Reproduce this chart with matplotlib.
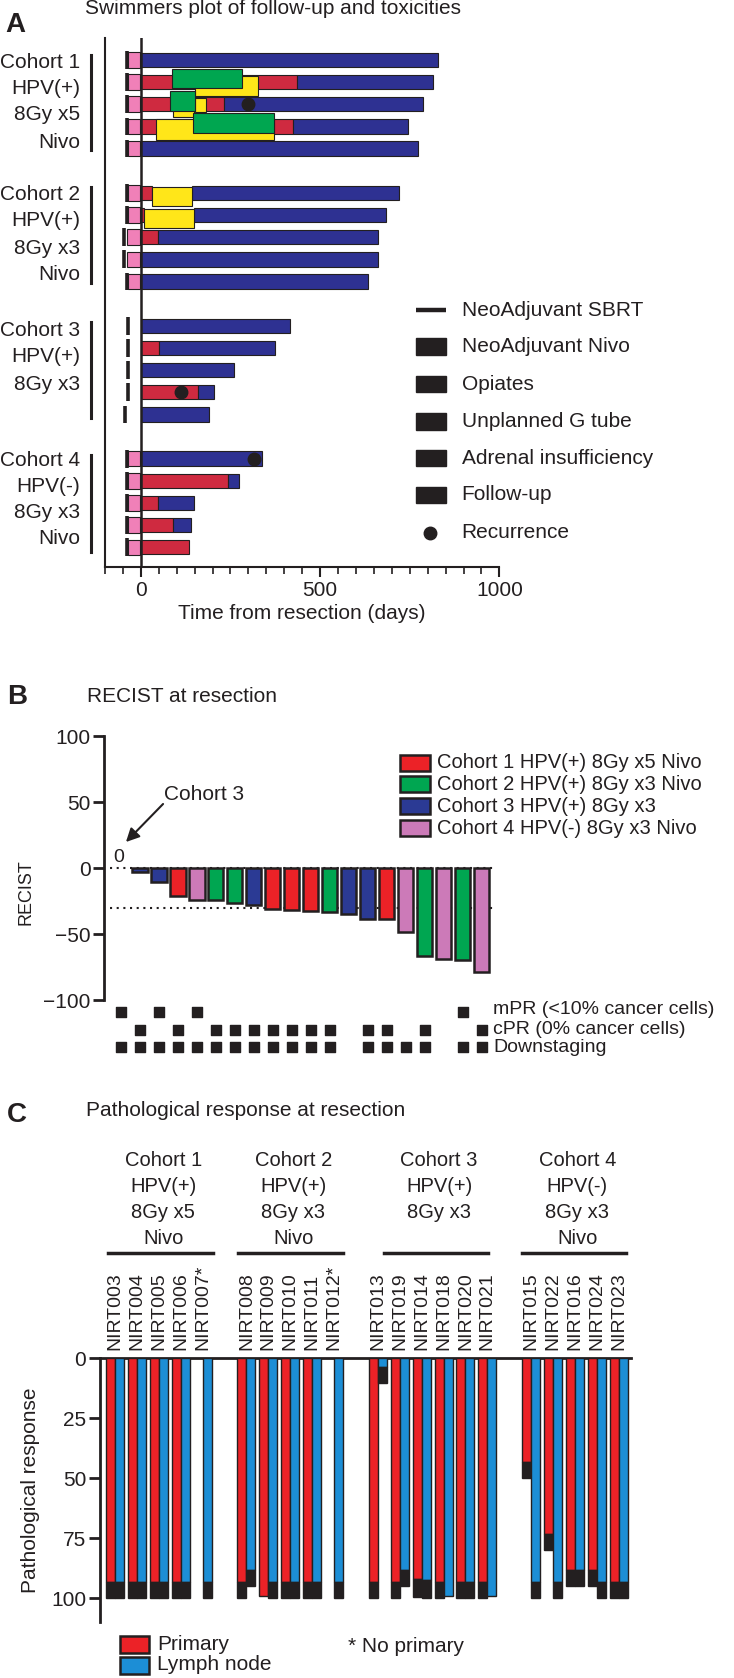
import numpy as np
import matplotlib.pyplot as plt

plt.rcParams['font.family'] = ['Liberation Sans', 'DejaVu Sans']
INK = '#231f20'
for k in ['text.color', 'axes.labelcolor', 'xtick.color', 'ytick.color', 'axes.edgecolor']:
    plt.rcParams[k] = INK

# ---------------- Panel A: swimmers plot ----------------
a_rows = [0, 1, 2, 3, 4, 6, 7, 8, 9, 10, 12, 13, 14, 15, 16, 18, 19, 20, 21, 22]
a_sbrt = [-40, -40, -40, -40, -40, -40, -40, -47, -47, -40,
          -37, -37, -37, -37, -44, -40, -40, -40, -40, -40]
a_nivo_start = [-35, -35, -35, -35, -35, -35, -35, -39, -39, -35,
                np.nan, np.nan, np.nan, np.nan, np.nan, -35, -35, -35, -35, -35]
a_nivo_end = -3
a_opiate_end = [0, 435, 232, 424, 0, 31, 9, 49, 0, 0,
                0, 52, 0, 158, 0, 0, 242, 49, 91, 133]
a_follow_start = [0, 435, 232, 424, 0, 144, 147, 49, 0, 0,
                  0, 52, 0, 158, 0, 0, 242, 49, 91, 133]
a_follow_end = [828, 816, 788, 746, 774, 720, 683, 662, 662, 634,
                416, 375, 260, 204, 191, 339, 275, 149, 140, 133]
gtube_row = [1.165, 2.245, 2.045, 3.135, 6.15, 7.155]
gtube_h = [0.89, 0.69, 0.63, 0.95, 0.86, 0.85]
gtube_start = [151, 90, 150, 43, 31, 9]
gtube_end = [328, 147, 181, 372, 144, 147]
adrenal_row = [0.845, 1.84, 2.845]
adrenal_h = [0.87, 0.9, 0.93]
adrenal_start = [88, 82, 145]
adrenal_end = [281, 150, 370]
recur_row = [2, 15, 18]
recur_day = [300, 112, 316]
a_legend = ['NeoAdjuvant SBRT', 'NeoAdjuvant Nivo', 'Opiates', 'Unplanned G tube',
            'Adrenal insufficiency', 'Follow-up', 'Recurrence']
a_groups = [['Cohort 1', 'HPV(+)', '8Gy x5', 'Nivo'], ['Cohort 2', 'HPV(+)', '8Gy x3', 'Nivo'],
            ['Cohort 3', 'HPV(+)', '8Gy x3'], ['Cohort 4', 'HPV(-)', '8Gy x3', 'Nivo']]

# ---------------- Panel B: RECIST waterfall ----------------
b_values = [0, -3, -10, -21, -24, -24, -26.5, -27.5, -30.5, -31.5,
            -32, -33, -34.5, -38.5, -38.5, -48, -66.5, -68.5, -69.5, -78.5]
b_cohort = [3, 3, 3, 1, 4, 2, 2, 3, 1, 1, 1, 2, 3, 3, 1, 4, 2, 4, 2, 4]
b_mpr = [0, 2, 4, 18]
b_cpr = [1, 3, 5, 6, 7, 8, 9, 10, 11, 13, 14, 16, 19]
b_down = [0, 1, 2, 3, 4, 5, 6, 7, 8, 9, 10, 11, 13, 14, 15, 16, 18, 19]
b_legend = ['Cohort 1 HPV(+) 8Gy x5 Nivo', 'Cohort 2 HPV(+) 8Gy x3 Nivo',
            'Cohort 3 HPV(+) 8Gy x3', 'Cohort 4 HPV(-) 8Gy x3 Nivo']
b_marks = ['mPR (<10% cancer cells)', 'cPR (0% cancer cells)', 'Downstaging']

# ---------------- Panel C: pathological response ----------------
c_patients = ['NIRT003', 'NIRT004', 'NIRT005', 'NIRT006', 'NIRT007*',
              'NIRT008', 'NIRT009', 'NIRT010', 'NIRT011', 'NIRT012*',
              'NIRT013', 'NIRT019', 'NIRT014', 'NIRT018', 'NIRT020', 'NIRT021',
              'NIRT015', 'NIRT022', 'NIRT016', 'NIRT024', 'NIRT023']
c_slot = [0, 1, 2, 3, 4, 6, 7, 8, 9, 10, 12, 13, 14, 15, 16, 17, 19, 20, 21, 22, 23]
prim_fill = [93, 93, 93, 93, np.nan, 93, 99, 93, 93, np.nan,
             93, 93, 92, 93, 93, 93, 43, 73, 88, 88, 93]
prim_total = [100, 100, 100, 100, np.nan, 100, 99, 100, 100, np.nan,
              100, 100, 99.5, 100, 100, 100, 50, 80, 95, 95, 100]
node_fill = [93, 93, 93, 93, 93, 88, 93, 93, 93, 93,
             3.5, 88, 92.5, 99, 93, 99, 93, 93, 88, 93, 93]
node_total = [100, 100, 100, 100, 100, 95, 100, 100, 100, 100,
              10.4, 95, 100, 99, 100, 99, 100, 100, 95, 100, 100]
c_groups = [['Cohort 1', 'HPV(+)', '8Gy x5', 'Nivo'], ['Cohort 2', 'HPV(+)', '8Gy x3', 'Nivo'],
            ['Cohort 3', 'HPV(+)', '8Gy x3'], ['Cohort 4', 'HPV(-)', '8Gy x3', 'Nivo']]

W, H = 734, 1678
fig = plt.figure(figsize=(W / 100, H / 100), dpi=100)


def px_axes(l, t, r, b):
    return fig.add_axes([l / W, 1 - b / H, (r - l) / W, (b - t) / H])


RED_A, BLUE_A, YEL, GRN, PINK = '#cf2a40', '#2e3192', '#ffe619', '#00a650', '#f080b8'

# ---- A ----
ax = px_axes(105, 38, 499.4, 567)
rows = np.array(a_rows, float)
op = np.array(a_opiate_end, float)
m = op > 0
ax.barh(rows[m], op[m], left=0, height=0.65, color=RED_A, edgecolor=INK, lw=0.8, zorder=2)
fs, fe = np.array(a_follow_start, float), np.array(a_follow_end, float)
m = fe > fs
ax.barh(rows[m], (fe - fs)[m], left=fs[m], height=0.65, color=BLUE_A, edgecolor=INK, lw=0.8, zorder=2)
ns = np.array(a_nivo_start)
m = ~np.isnan(ns)
ax.barh(rows[m], a_nivo_end - ns[m], left=ns[m], height=0.7, color=PINK, edgecolor=INK, lw=0.8, zorder=2)
ax.vlines(a_sbrt, rows - 0.4, rows + 0.4, color=INK, lw=2.6, zorder=3)
ax.barh(gtube_row, np.subtract(gtube_end, gtube_start), left=gtube_start, height=gtube_h,
        color=YEL, edgecolor=INK, lw=0.8, zorder=3)
ax.barh(adrenal_row, np.subtract(adrenal_end, adrenal_start), left=adrenal_start, height=adrenal_h,
        color=GRN, edgecolor=INK, lw=0.8, zorder=4)
ax.plot(recur_day, recur_row, 'o', color=INK, ms=9, zorder=5)
ax.axvline(0, color=INK, lw=1.8, zorder=4)
ax.set_xlim(-100, 1000)
ax.set_ylim(22.89, -0.99)
for s in ['top', 'right']:
    ax.spines[s].set_visible(False)
ax.spines['left'].set_linewidth(1.5)
ax.spines['bottom'].set_linewidth(1.5)
ax.set_yticks([])
ax.set_xticks([0, 500, 1000])
ax.set_xticks(np.arange(-100, 1001, 50), minor=True)
ax.tick_params(axis='x', which='major', length=7, width=1.5, labelsize=15, pad=3)
ax.tick_params(axis='x', which='minor', length=5, width=1.2)
ax.set_xlabel('Time from resection (days)', fontsize=15, labelpad=3)

# ---- B ----
RED_B, GRN_B, BLUE_B, PINK_B = '#ec2227', '#00a651', '#2b3a94', '#cc7ab8'
b_colors = {1: RED_B, 2: GRN_B, 3: BLUE_B, 4: PINK_B}
bx = px_axes(104.3, 730, 720, 1055)
xb = np.arange(len(b_values))
vals = np.array(b_values)
m = vals != 0
bx.bar(xb[m], vals[m], width=0.8, color=[b_colors[c] for c, k in zip(b_cohort, m) if k],
       edgecolor=INK, lw=1.8, zorder=3)
bx.hlines([0, -30], -0.58, 19.7, color=INK, lw=1.5, linestyle=(0, (1, 2.2)), zorder=2)
for yy, pos in zip([-109, -122.5, -135], [b_mpr, b_cpr, b_down]):
    bx.scatter(pos, [yy] * len(pos), marker='s', s=48, color=INK, clip_on=False, zorder=3)
bx.set_xlim(-0.88, 31.56)
bx.set_ylim(-141.4, 104.8)
for s in ['top', 'right', 'bottom']:
    bx.spines[s].set_visible(False)
bx.spines['left'].set_bounds(-100, 100)
bx.spines['left'].set_linewidth(2)
bx.set_xticks([])
bx.set_yticks([-100, -50, 0, 50, 100])
bx.tick_params(axis='y', length=8, width=2, labelsize=15, pad=2)
bx.set_ylabel('RECIST', fontsize=13, labelpad=6)

# ---- C ----
RED_C, BLUE_C = '#ec2227', '#1c8ed6'
cx = px_axes(100, 1358.3, 631, 1621.7)
slot = np.array(c_slot, float)
bw = 0.41
for off, fill, tot, col in [(-bw / 2, prim_fill, prim_total, RED_C), (bw / 2, node_fill, node_total, BLUE_C)]:
    fill, tot = np.array(fill), np.array(tot)
    m = ~np.isnan(fill)
    cx.bar(slot[m] + off, fill[m], width=bw, color=col, edgecolor=INK, lw=1, zorder=3)
    cap = m & (tot > fill)
    cx.bar(slot[cap] + off, (tot - fill)[cap], bottom=fill[cap], width=bw, color=INK,
           edgecolor=INK, lw=1, zorder=3)
cx.set_xlim(-0.685, 23.56)
cx.set_ylim(109.75, 0)
for s in ['right', 'bottom']:
    cx.spines[s].set_visible(False)
cx.spines['left'].set_linewidth(2)
cx.spines['top'].set_linewidth(2)
cx.xaxis.tick_top()
cx.set_xticks(slot)
cx.set_xticklabels(c_patients, rotation=90, fontsize=14)
cx.tick_params(axis='x', length=0, pad=6)
cx.set_yticks([0, 25, 50, 75, 100])
cx.tick_params(axis='y', length=8, width=2, labelsize=15, pad=2)
cx.set_ylabel('Pathological response', fontsize=15, labelpad=8)

# ---- overlay for titles, group labels and legends (pixel coords) ----
ov = fig.add_axes([0, 0, 1, 1])
ov.set_xlim(0, W)
ov.set_ylim(H, 0)
ov.axis('off')
ov.patch.set_alpha(0)

ov.text(5, 25, 'A', fontsize=20, fontweight='bold', va='center')
ov.text(7, 697, 'B', fontsize=20, fontweight='bold', va='center')
ov.text(7, 1115, 'C', fontsize=20, fontweight='bold', va='center')
ov.text(85, 9, 'Swimmers plot of follow-up and toxicities', fontsize=15, va='center')
ov.text(87, 697, 'RECIST at resection', fontsize=15, va='center')
ov.text(86, 1111, 'Pathological response at resection', fontsize=15, va='center')

# A group labels
a_label_y = [[62, 88, 115, 142], [194, 221, 248, 274], [331, 357, 384], [460, 487, 513, 539]]
a_brackets = [(55, 150), (187, 283), (322, 418), (455, 552)]
for labels, ys, (y0, y1) in zip(a_groups, a_label_y, a_brackets):
    for t, y in zip(labels, ys):
        ov.text(80, y, t, fontsize=15, ha='right', va='center')
    ov.plot([90.7, 90.7], [y0, y1], color=INK, lw=2.2)

# A legend
leg_y = [310, 346.7, 384, 421.7, 458, 495, 532.7]
for i, (t, y) in enumerate(zip(a_legend, leg_y)):
    if i == 0:
        ov.plot([416, 446], [y, y], color=INK, lw=3.2, solid_capstyle='butt')
    elif i == len(a_legend) - 1:
        ov.plot([430], [y], 'o', color=INK, ms=9)
    else:
        ov.add_patch(plt.Rectangle((416, y - 8.3), 30, 16.6, color=INK))
    ov.text(461.7, y, t, fontsize=15, va='center')

# B annotations and legend
ov.text(118.3, 857, '0', fontsize=14, ha='center', va='center')
ov.text(164, 794, 'Cohort 3', fontsize=15, va='center')
ov.annotate('', xy=(124, 844), xytext=(165, 802),
            arrowprops=dict(arrowstyle='-|>', color=INK, lw=1.5, mutation_scale=20))
for t, y in zip(b_marks, [1010, 1029, 1047]):
    ov.text(493, y, t, fontsize=14, va='center')
for c, t, y in zip([1, 2, 3, 4], b_legend, [762.5, 784, 806, 828]):
    ov.add_patch(plt.Rectangle((400, y - 8), 30, 16, facecolor=b_colors[c], edgecolor=INK, lw=1.8))
    ov.text(437, y, t, fontsize=14.5, va='center')

# C group headers and legend
c_centers = [163.3, 293.3, 439, 577.3]
c_brackets = [(108.3, 213.3), (238.3, 343.3), (384, 488), (522.3, 626.3)]
for labels, xc, (x0, x1) in zip(c_groups, c_centers, c_brackets):
    for t, y in zip(labels, [1160, 1187, 1213, 1238]):
        ov.text(xc, y, t, fontsize=14.5, ha='center', va='center')
    ov.plot([x0, x1], [1253.3, 1253.3], color=INK, lw=2.5)
for col, t, y in zip([RED_C, BLUE_C], ['Primary', 'Lymph node'], [1644.7, 1665]):
    ov.add_patch(plt.Rectangle((120, y - 8.5), 29.3, 17, facecolor=col, edgecolor=INK, lw=1.8))
    ov.text(157, y, t, fontsize=15, va='center')
ov.text(348, 1647, '* No primary', fontsize=15, va='center')

fig.savefig('out.png', dpi=100)
